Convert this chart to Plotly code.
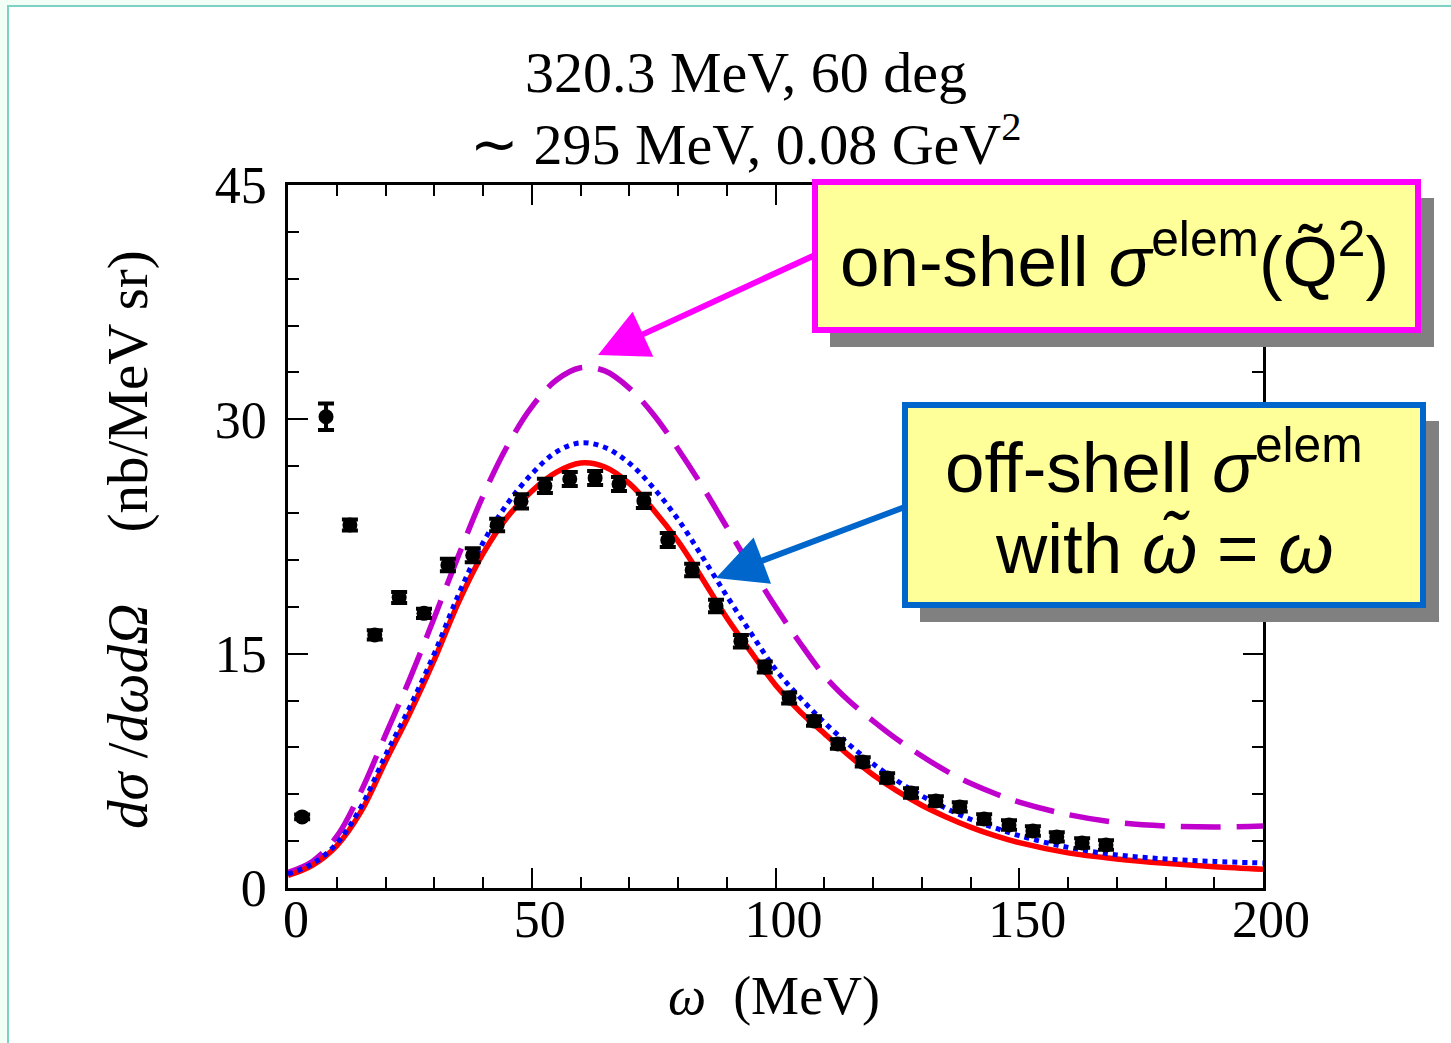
import plotly.graph_objects as go

# ---------------- data ----------------
omega_data = [2.9, 7.8, 12.7, 17.8, 22.8, 27.9, 32.8, 37.9, 42.9, 47.8, 52.7, 57.8, 63.0, 67.9,
              73.0, 77.9, 82.9, 87.8, 92.9, 97.8, 102.8, 107.9, 112.8, 117.9, 122.9, 127.8,
              132.9, 137.8, 142.8, 147.9, 152.8, 157.7, 162.9, 167.8]
xs_data = [4.55, 30.17, 23.24, 16.2, 18.6, 17.58, 20.68, 21.3, 23.24, 24.75, 25.74, 26.18, 26.25, 25.86,
           24.78, 22.28, 20.36, 18.05, 15.8, 14.15, 12.16, 10.69, 9.22, 8.07, 7.04, 6.08,
           5.57, 5.19, 4.42, 4.03, 3.65, 3.27, 2.88, 2.75]
xs_err = [0.15, 0.85, 0.35, 0.3, 0.35, 0.3, 0.4, 0.45, 0.4, 0.45, 0.45, 0.45, 0.45, 0.45,
          0.45, 0.45, 0.4, 0.4, 0.4, 0.35, 0.35, 0.3, 0.3, 0.3, 0.3, 0.3,
          0.3, 0.3, 0.3, 0.3, 0.3, 0.3, 0.3, 0.3]

omega_curve = [0, 5, 10, 15, 20, 25, 30, 35, 40, 45, 50, 55, 60, 65, 70, 75, 80, 85, 90, 95,
               100, 105, 110, 115, 120, 125, 130, 135, 140, 145, 150, 160, 170, 180, 190, 200]
red_full = [0.8, 1.45, 2.7, 4.9, 8.1, 11.2, 14.6, 18.3, 21.4, 23.75, 25.4, 26.6, 27.2, 26.95, 25.9,
            24.2, 22.2, 19.8, 17.3, 15.1, 13.0, 11.3, 9.9, 8.5, 7.25, 6.2, 5.3, 4.55, 3.9, 3.35,
            2.9, 2.25, 1.86, 1.58, 1.36, 1.2]
blue_offshell = [0.9, 1.55, 2.85, 5.2, 8.5, 11.6, 15.0, 18.8, 22.1, 24.6, 26.5, 27.9, 28.5, 28.2, 27.2,
                 25.6, 23.6, 21.2, 18.7, 16.3, 14.0, 12.2, 10.6, 9.2, 7.95, 6.85, 5.9, 5.1, 4.4, 3.85,
                 3.35, 2.6, 2.12, 1.86, 1.7, 1.6]
magenta_onshell = [1.0, 1.7, 3.3, 6.2, 9.8, 13.4, 17.3, 21.3, 25.1, 28.3, 30.8, 32.5, 33.3, 33.1, 32.0,
                   30.3, 28.1, 25.7, 23.1, 20.5, 18.0, 15.7, 13.6, 12.0, 10.7, 9.5, 8.45, 7.5, 6.7, 6.05,
                   5.5, 4.7, 4.2, 3.97, 3.9, 3.97]

x_ticks = [0, 50, 100, 150, 200]
y_ticks = [0, 15, 30, 45]

# ---------------- geometry helpers (pixel -> paper) ----------------
W, H = 1451, 1043
L, R, T, B = 288, 1263, 185, 888


def px(xp):
    return (xp - L) / (R - L)


def py(yp):
    return (B - yp) / (B - T)


serif = "Liberation Serif, Times New Roman, serif"
sans = "Liberation Sans, Arial, sans-serif"

fig = go.Figure()

fig.add_trace(go.Scatter(x=omega_curve, y=magenta_onshell, mode="lines", line_shape="spline",
                         line=dict(color="#c000cc", width=5.5, dash="40px,16px"), showlegend=False))
fig.add_trace(go.Scatter(x=omega_curve, y=red_full, mode="lines", line_shape="spline",
                         line=dict(color="#ff0000", width=5.5), showlegend=False))
fig.add_trace(go.Scatter(x=omega_curve, y=blue_offshell, mode="lines", line_shape="spline",
                         line=dict(color="#0000ff", width=5, dash="dot"), showlegend=False))
fig.add_trace(go.Scatter(x=omega_data, y=xs_data, mode="markers",
                         marker=dict(color="black", size=15, symbol="circle"),
                         error_y=dict(type="data", array=xs_err, color="black", thickness=4, width=8),
                         showlegend=False))

axis_common = dict(showgrid=False, zeroline=False, showline=True, linecolor="black", linewidth=2.5,
                   mirror="allticks", ticks="inside", ticklen=20, tickwidth=2, tickcolor="black",
                   tickfont=dict(family=serif, size=52, color="black"))

fig.update_xaxes(range=[0, 200], tickvals=x_ticks, ticklabelstandoff=-16, ticklabelshift=8,
                 minor=dict(dtick=10, ticks="inside", ticklen=11, tickwidth=2, tickcolor="black"),
                 **axis_common)
fig.update_yaxes(range=[0, 45], tickvals=y_ticks, ticklabelstandoff=8,
                 minor=dict(dtick=3, ticks="inside", ticklen=11, tickwidth=2, tickcolor="black"),
                 **axis_common)

shapes = []
# outer frame
shapes.append(dict(type="rect", xref="paper", yref="paper", layer="below",
                   x0=px(8), x1=px(1470), y0=py(6), y1=py(1060),
                   fillcolor="white", line=dict(color="#7ecfc4", width=2)))
# annotation boxes with shadows
for (x0, y0, x1, y1, col) in [(815, 182, 1418, 330, "#ff00ff"), (905, 405, 1423, 605, "#0066cc")]:
    shapes.append(dict(type="rect", xref="paper", yref="paper", layer="above",
                       x0=px(x0 + 15), x1=px(x1 + 16), y0=py(y0 + 16), y1=py(y1 + 17),
                       fillcolor="#808080", line=dict(width=0)))
    shapes.append(dict(type="rect", xref="paper", yref="paper", layer="above",
                       x0=px(x0), x1=px(x1), y0=py(y0), y1=py(y1),
                       fillcolor="#ffff99", line=dict(color=col, width=6)))

annotations = []
# title lines
annotations.append(dict(xref="paper", yref="paper", x=px(746), y=py(72), showarrow=False,
                        text="320.3 MeV, 60 deg", font=dict(family=serif, size=58, color="black"),
                        xanchor="center", yanchor="middle"))
annotations.append(dict(xref="paper", yref="paper", x=px(746), y=py(140), showarrow=False,
                        text="∼ 295 MeV, 0.08 GeV<sup>2</sup>", font=dict(family=serif, size=58, color="black"),
                        xanchor="center", yanchor="middle"))
# axis titles
annotations.append(dict(xref="paper", yref="paper", x=px(774), y=py(996), showarrow=False,
                        text="<i>ω</i>  (MeV)", font=dict(family=serif, size=54, color="black"),
                        xanchor="center", yanchor="middle"))
annotations.append(dict(xref="paper", yref="paper", x=px(128), y=py(540), showarrow=False, textangle=-90,
                        text="<i>dσ</i> /<i>dωd</i><i>Ω</i>     (nb/MeV sr)",
                        font=dict(family=serif, size=57, color="black"),
                        xanchor="center", yanchor="middle"))
# box texts
annotations.append(dict(xref="paper", yref="paper", x=px(1114), y=py(256), showarrow=False,
                        text="on-shell <i>σ</i><sup>elem</sup>(Q\u0303<sup>2</sup>)",
                        font=dict(family=sans, size=71, color="black"),
                        xanchor="center", yanchor="middle"))
annotations.append(dict(xref="paper", yref="paper", x=px(1154), y=py(462), showarrow=False,
                        text="off-shell <i>σ</i><sup>elem</sup>",
                        font=dict(family=sans, size=71, color="black"),
                        xanchor="center", yanchor="middle"))
annotations.append(dict(xref="paper", yref="paper", x=px(1164), y=py(548), showarrow=False,
                        text="with <i>ω\u0303</i> = <i>ω</i>",
                        font=dict(family=sans, size=71, color="black"),
                        xanchor="center", yanchor="middle"))
# arrows
annotations.append(dict(xref="x", yref="y", x=(598 - L) / (R - L) * 200, y=(B - 355) / (B - T) * 45,
                        ax=815 - 598, ay=255 - 355, text="", showarrow=True,
                        arrowhead=2, arrowsize=1.65, arrowwidth=6, arrowcolor="#ff00ff"))
annotations.append(dict(xref="x", yref="y", x=(716 - L) / (R - L) * 200, y=(B - 578) / (B - T) * 45,
                        ax=905 - 716, ay=507 - 578, text="", showarrow=True,
                        arrowhead=2, arrowsize=1.65, arrowwidth=6, arrowcolor="#0066cc"))

fig.update_layout(width=W, height=H, margin=dict(l=L, r=W - R, t=T, b=H - B, pad=0),
                  paper_bgcolor="#f2fff7", plot_bgcolor="white",
                  shapes=shapes, annotations=annotations, showlegend=False)

fig.write_html("out.html")
